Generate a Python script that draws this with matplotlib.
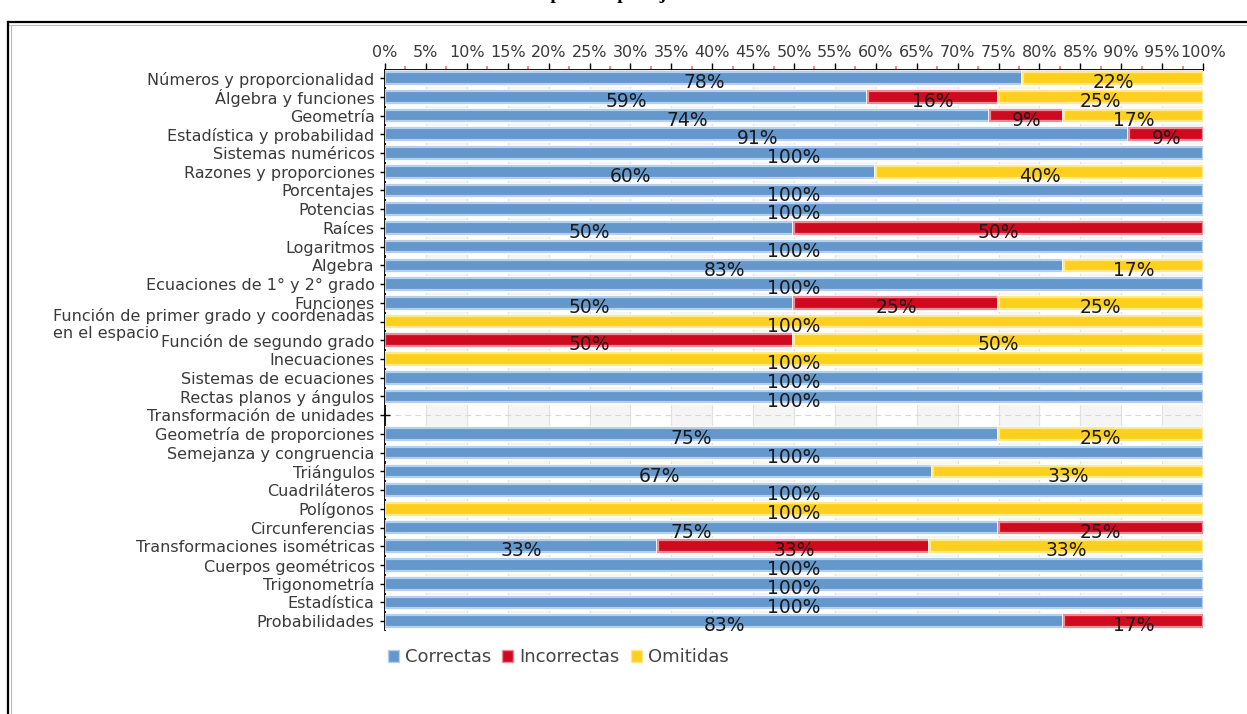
import numpy as np
import matplotlib
matplotlib.use('Agg')
import matplotlib.pyplot as plt
import matplotlib.patheffects as pe
from matplotlib.lines import Line2D
from matplotlib.patches import Patch
from matplotlib.ticker import MultipleLocator, FuncFormatter

# Data
categories = [
    'Números y proporcionalidad', 'Álgebra y funciones', 'Geometría',
    'Estadística y probabilidad', 'Sistemas numéricos', 'Razones y proporciones',
    'Porcentajes', 'Potencias', 'Raíces', 'Logaritmos', 'Algebra',
    'Ecuaciones de 1° y 2° grado', 'Funciones',
    'Función de primer grado y coordenadas\nen el espacio',
    'Función de segundo grado', 'Inecuaciones', 'Sistemas de ecuaciones',
    'Rectas planos y ángulos', 'Transformación de unidades',
    'Geometría de proporciones', 'Semejanza y congruencia', 'Triángulos',
    'Cuadriláteros', 'Polígonos', 'Circunferencias',
    'Transformaciones isométricas', 'Cuerpos geométricos', 'Trigonometría',
    'Estadística', 'Probabilidades',
]
correctas = [78, 59, 74, 91, 100, 60, 100, 100, 50, 100, 83, 100, 50, 0, 0, 0,
             100, 100, 0, 75, 100, 67, 100, 0, 75, 33.33, 100, 100, 100, 83]
incorrectas = [0, 16, 9, 9, 0, 0, 0, 0, 50, 0, 0, 0, 25, 0, 50, 0,
               0, 0, 0, 0, 0, 0, 0, 0, 25, 33.33, 0, 0, 0, 17]
omitidas = [22, 25, 17, 0, 0, 40, 0, 0, 0, 0, 17, 0, 25, 100, 50, 100,
            0, 0, 0, 25, 0, 33, 0, 100, 0, 33.33, 0, 0, 0, 0]
series_names = ['Correctas', 'Incorrectas', 'Omitidas']

colors = ['#6497cb', '#cf0a1e', '#fdd01f']
edges = ['#b4d0ee', '#f08a96', '#ffe98a']

W, H = 1247, 714
fig = plt.figure(figsize=(W / 100, H / 100), dpi=100)
ax = fig.add_axes([385 / W, 1 - 630 / H, 818 / W, 560 / H])

y = np.arange(len(categories))

# alternating light bands + grid
for k in range(0, 20, 2):
    ax.axvspan(k * 5 + 5, k * 5 + 10, color='#f5f5f5', zorder=0)
ax.set_axisbelow(True)
ax.grid(axis='x', color='#e2e2e2', linewidth=0.8)
ax.grid(axis='y', color='#d8d8d8', linestyle=(0, (5, 4)), linewidth=0.8)

gap = [pe.Stroke(linewidth=3.5, foreground='white'), pe.Normal()]
left = np.zeros(len(categories))
for vals, c, ec in zip([correctas, incorrectas, omitidas], colors, edges):
    vals = np.array(vals, dtype=float)
    mask = vals > 0
    # shadow
    ax.barh(y[mask] + 0.1, vals[mask], left=left[mask], height=0.62,
            color='#d4d4d4', zorder=2)
    bars = ax.barh(y[mask], vals[mask], left=left[mask], height=0.62, color=c,
                   edgecolor=ec, linewidth=1.6, zorder=3)
    for b in bars:
        b.set_path_effects(gap)
    for yi, v, l in zip(y[mask], vals[mask], left[mask]):
        ax.text(l + v / 2, yi + 0.25, '%d%%' % round(v), ha='center',
                va='center', fontsize=13.5, color='#1a1a1a', zorder=5)
    left = left + vals

ax.set_xlim(0, 100)
ax.set_ylim(len(categories) - 0.53, -0.43)

ax.xaxis.tick_top()
ax.xaxis.set_major_locator(MultipleLocator(5))
ax.xaxis.set_minor_locator(MultipleLocator(2.5))
ax.xaxis.set_major_formatter(FuncFormatter(lambda v, p: '%d%%' % v))
ax.tick_params(axis='x', which='major', direction='out', length=5, width=1,
               color='black', labelsize=11.5, labelcolor='#3a3a3a', pad=2)
ax.tick_params(axis='x', which='minor', direction='out', length=3, width=1.2,
               color='#f07070')
ax.tick_params(axis='x', which='minor', top=True)

ax.set_yticks(y)
ax.set_yticklabels(categories)
ax.tick_params(axis='y', direction='inout', length=7, width=1, color='black',
               labelsize=11.5, labelcolor='#3a3a3a', pad=4)
for lab in ax.get_yticklabels():
    if '\n' in lab.get_text():
        lab.set_multialignment('left')

for s in ['right', 'bottom']:
    ax.spines[s].set_visible(False)
ax.spines['left'].set_linewidth(1.3)
ax.spines['top'].set_linewidth(1.3)

handles = [Patch(facecolor=c, edgecolor=e, linewidth=1) for c, e in zip(colors, edges)]
fig.legend(handles, series_names, loc='upper left',
           bbox_to_anchor=(372 / W, 1 - 632 / H), ncol=3, frameon=False,
           fontsize=13, labelcolor='#444444', handlelength=0.6,
           handleheight=0.6, handletextpad=0.35, columnspacing=0.6)

# page frame and clipped title
fig.add_artist(Line2D([8 / W, 1], [1 - 22 / H, 1 - 22 / H], color='black', lw=1.6))
fig.add_artist(Line2D([8 / W, 1], [1 - 24.5 / H, 1 - 24.5 / H], color='#bbbbbb', lw=0.8))
fig.add_artist(Line2D([8 / W, 8 / W], [0, 1 - 22 / H], color='black', lw=1.6))
fig.add_artist(Line2D([10.5 / W, 10.5 / W], [0, 1 - 24.5 / H], color='#bbbbbb', lw=0.8))
fig.text(520 / W, 1 + 1 / H, 'Respuestas por eje', ha='left', va='baseline',
         fontsize=14, fontweight='bold', family='Liberation Serif')

fig.savefig('out.png', dpi=100)
